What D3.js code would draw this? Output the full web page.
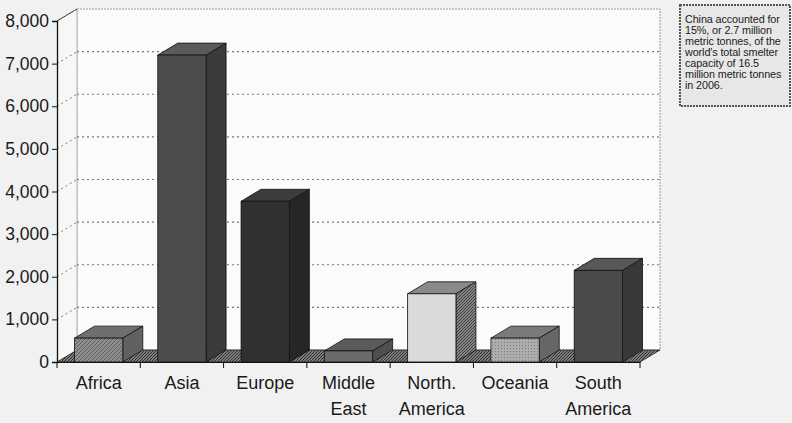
<!DOCTYPE html>
<html>
<head>
<meta charset="utf-8">
<script src="https://cdn.jsdelivr.net/npm/d3@7"></script>
<style>
  body { margin: 0; background: #f1f1f1; }
  svg { display: block; font-family: "Liberation Sans", Arial, sans-serif; }
</style>
</head>
<body>
<div id="chart"></div>
<script>
// regions and smelter capacity (thousand metric tonnes)
var regions = ["Africa", "Asia", "Europe", "Middle East", "North. America", "Oceania", "South America"];
var regionLines = [["Africa"], ["Asia"], ["Europe"], ["Middle", "East"], ["North.", "America"], ["Oceania"], ["South", "America"]];
var capacity = [560, 7200, 3770, 260, 1600, 560, 2150];
var yTicks = [0, 1000, 2000, 3000, 4000, 5000, 6000, 7000, 8000];
var note = ["China accounted for", "15%, or 2.7 million", "metric tonnes, of the",
    "world's total smelter", "capacity of 16.5", "million metric tonnes", "in 2006."];

// bar faces: front, top, side, front fill pattern
var barStyle = [
    { front: "url(#hatchMid)", top: "#6f6f6f", side: "#616161" },
    { front: "#4d4d4d", top: "#5a5a5a", side: "#3b3b3b" },
    { front: "#303030", top: "#3c3c3c", side: "#262626" },
    { front: "#6b6b6b", top: "#5b5b5b", side: "#4f4f4f" },
    { front: "#dadada", top: "#8a8a8a", side: "url(#hatchDark)" },
    { front: "url(#dots)", top: "#7a7a7a", side: "#676767" },
    { front: "#4a4a4a", top: "#585858", side: "#393939" }
];

var width = 792, height = 423;
var x0 = 57, x1 = 640, yBase = 362, yTop = 21;
var depth = { dx: 20, dy: -12 };

var svg = d3.select("#chart").append("svg")
    .attr("width", width)
    .attr("height", height);

var defs = svg.append("defs");
function hatch(id, bg, fg, size) {
    var p = defs.append("pattern").attr("id", id)
        .attr("patternUnits", "userSpaceOnUse")
        .attr("width", size).attr("height", size);
    p.append("rect").attr("width", size).attr("height", size).attr("fill", bg);
    p.append("path").attr("d", "M0," + size + "L" + size + ",0M-1,1L1,-1M" + (size - 1) + "," + (size + 1) + "L" + (size + 1) + "," + (size - 1))
        .attr("stroke", fg).attr("stroke-width", 1);
}
hatch("hatchMid", "#8e8e8e", "#5e5e5e", 4);
hatch("hatchDark", "#858585", "#3e3e3e", 3);
hatch("floorHatch", "#7d7d7d", "#2f2f2f", 3);
var dots = defs.append("pattern").attr("id", "dots")
    .attr("patternUnits", "userSpaceOnUse").attr("width", 3).attr("height", 3);
dots.append("rect").attr("width", 3).attr("height", 3).attr("fill", "#adadad");
dots.append("rect").attr("width", 1).attr("height", 1).attr("fill", "#7d7d7d");

var x = d3.scaleBand().domain(regions).range([x0, x1]);
var xBar = d3.scaleBand().domain(regions).range([x0, x1])
    .paddingInner(0.42).paddingOuter(0.21);
var y = d3.scaleLinear().domain([0, 8000]).range([yBase, yTop]);

// back wall
svg.append("rect")
    .attr("x", x0 + depth.dx).attr("y", yTop + depth.dy)
    .attr("width", x1 - x0).attr("height", yBase - yTop)
    .attr("fill", "#fbfbfb")
    .attr("stroke", "#9a9a9a").attr("stroke-dasharray", "2,1");

// left wall
svg.append("path")
    .attr("d", "M" + x0 + "," + yBase + "L" + x0 + "," + yTop + "L" + (x0 + depth.dx) + "," + (yTop + depth.dy) +
        "L" + (x0 + depth.dx) + "," + (yBase + depth.dy) + "Z")
    .attr("fill", "#f7f7f7").attr("stroke", "none");
svg.append("line")
    .attr("x1", x0 + depth.dx).attr("x2", x0 + depth.dx)
    .attr("y1", yTop + depth.dy).attr("y2", yBase + depth.dy)
    .attr("stroke", "#b0b0b0");
svg.append("line")
    .attr("x1", x0).attr("y1", yTop)
    .attr("x2", x0 + depth.dx).attr("y2", yTop + depth.dy)
    .attr("stroke", "#333");

// gridlines on the walls
var grid = svg.append("g");
grid.selectAll(".back").data(yTicks.slice(1, -1)).enter().append("line")
    .attr("x1", x0 + depth.dx).attr("x2", x1 + depth.dx)
    .attr("y1", function (d) { return y(d) + depth.dy; })
    .attr("y2", function (d) { return y(d) + depth.dy; })
    .attr("stroke", "#777").attr("stroke-width", 1.2).attr("stroke-dasharray", "2,3");
grid.selectAll(".side").data(yTicks.slice(1)).enter().append("line")
    .attr("x1", x0).attr("x2", x0 + depth.dx)
    .attr("y1", function (d) { return y(d); })
    .attr("y2", function (d) { return y(d) + depth.dy; })
    .attr("stroke", "#777").attr("stroke-dasharray", "2,3");

// floor
svg.append("path")
    .attr("d", "M" + x0 + "," + yBase + "L" + x1 + "," + yBase + "L" + (x1 + depth.dx) + "," + (yBase + depth.dy) +
        "L" + (x0 + depth.dx) + "," + (yBase + depth.dy) + "Z")
    .attr("fill", "url(#floorHatch)").attr("stroke", "#222").attr("stroke-width", 0.8);

// bars
var bars = svg.selectAll(".bar").data(regions).enter().append("g").attr("class", "bar");
bars.each(function (c, i) {
    var g = d3.select(this);
    var bx = xBar(c), bw = xBar.bandwidth(), by = y(capacity[i]);
    var s = barStyle[i];
    g.append("path")
        .attr("d", "M" + bx + "," + by + "L" + (bx + depth.dx) + "," + (by + depth.dy) +
            "L" + (bx + bw + depth.dx) + "," + (by + depth.dy) + "L" + (bx + bw) + "," + by + "Z")
        .attr("fill", s.top).attr("stroke", "#111").attr("stroke-width", 0.8);
    g.append("path")
        .attr("d", "M" + (bx + bw) + "," + by + "L" + (bx + bw + depth.dx) + "," + (by + depth.dy) +
            "L" + (bx + bw + depth.dx) + "," + (yBase + depth.dy) + "L" + (bx + bw) + "," + yBase + "Z")
        .attr("fill", s.side).attr("stroke", "#111").attr("stroke-width", 0.8);
    g.append("rect")
        .attr("x", bx).attr("y", by)
        .attr("width", bw).attr("height", yBase - by)
        .attr("fill", s.front).attr("stroke", "#111").attr("stroke-width", 0.8);
});

// y axis
var yAxis = d3.axisLeft(y).tickValues(yTicks).tickSize(5).tickPadding(3)
    .tickFormat(d3.format(","));
var yg = svg.append("g")
    .attr("transform", "translate(" + x0 + ",0)")
    .call(yAxis);
yg.select(".domain").attr("stroke", "#111").attr("stroke-width", 1.3);
yg.selectAll(".tick line").attr("stroke", "#111");
yg.selectAll(".tick text")
    .attr("font-size", 17.5)
    .attr("font-family", "Liberation Sans, Arial, sans-serif")
    .attr("fill", "#1a1a1a");

// x axis
var xAxis = d3.axisBottom(x).tickSize(0).tickFormat("");
var xg = svg.append("g")
    .attr("transform", "translate(0," + yBase + ")")
    .call(xAxis);
xg.select(".domain").attr("stroke", "#111").attr("stroke-width", 1.2);
xg.selectAll(".sep").data(d3.range(regions.length + 1)).enter().append("line")
    .attr("x1", function (k) { return x0 + k * x.step(); })
    .attr("x2", function (k) { return x0 + k * x.step(); })
    .attr("y1", 0).attr("y2", 6)
    .attr("stroke", "#111");

var labels = svg.append("g").selectAll("text").data(regions).enter().append("text")
    .attr("text-anchor", "middle")
    .attr("font-size", 18)
    .attr("fill", "#1a1a1a")
    .attr("x", function (c) { return x(c) + x.bandwidth() / 2; })
    .attr("y", 389);
labels.selectAll("tspan").data(function (c, i) { return regionLines[i]; }).enter().append("tspan")
    .attr("x", function () { var c = d3.select(this.parentNode).datum(); return x(c) + x.bandwidth() / 2; })
    .attr("dy", function (d, j) { return j === 0 ? 0 : 26; })
    .text(function (d) { return d; });

// note box
var box = svg.append("g").attr("transform", "translate(680,5)");
box.append("rect")
    .attr("width", 110).attr("height", 101)
    .attr("fill", "#e7e7e7")
    .attr("stroke", "#555").attr("stroke-width", 2).attr("stroke-dasharray", "2,1");
box.selectAll("text").data(note).enter().append("text")
    .attr("x", 5)
    .attr("y", function (d, i) { return 18 + i * 11; })
    .attr("font-size", 10.8)
    .attr("letter-spacing", -0.1)
    .attr("fill", "#222")
    .text(function (d) { return d; });
</script>
</body>
</html>
